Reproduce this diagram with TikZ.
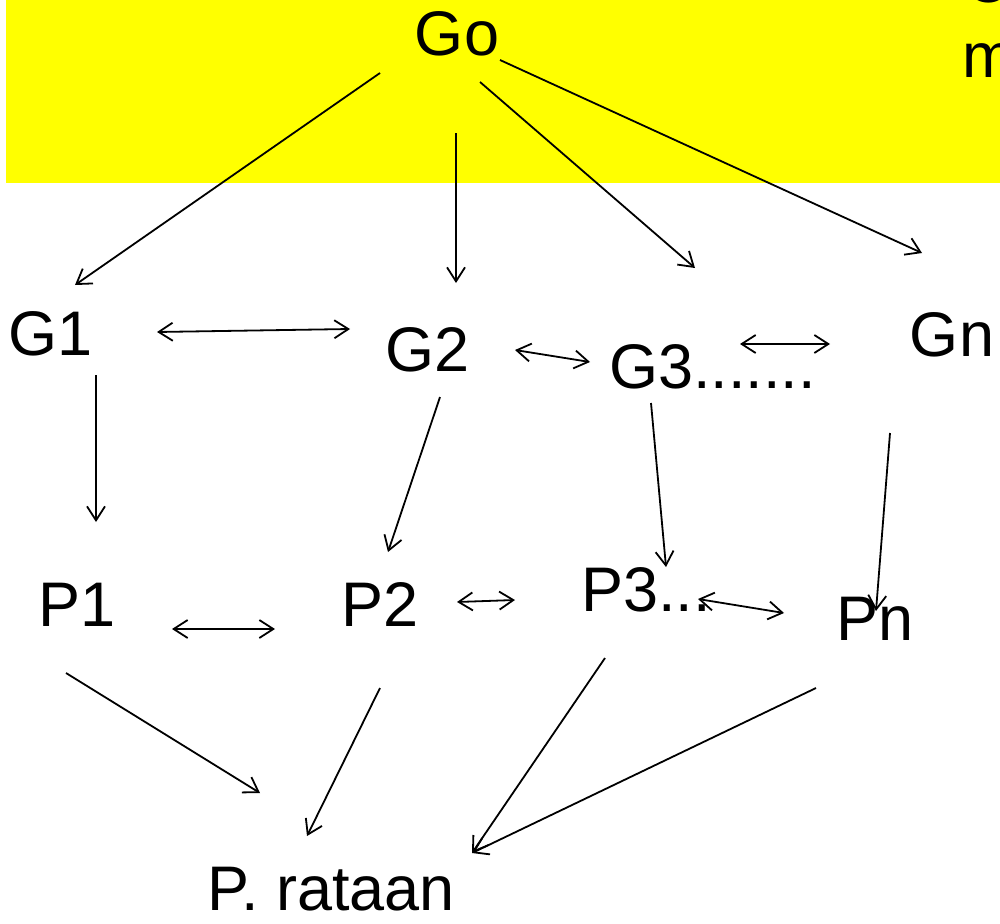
\documentclass[tikz,border=0pt]{standalone}
\usepackage{fontspec}
\setmainfont{Liberation Sans}
\usetikzlibrary{arrows.meta}
\definecolor{hl}{RGB}{255,255,0}
\tikzset{
  lbl/.style={inner sep=0pt, anchor=base, font=\fontsize{63}{75}\selectfont},
  arr/.style={line width=1.8pt, -{Straight Barb[length=14pt,width=18pt,line width=1.8pt]}},
  darr/.style={line width=1.8pt, {Straight Barb[length=14pt,width=18pt,line width=1.8pt]}-{Straight Barb[length=14pt,width=18pt,line width=1.8pt]}}
}
\begin{document}
\begin{tikzpicture}[x=1pt,y=-1pt]
\useasboundingbox (0,0) rectangle (1000,923);
\clip (0,0) rectangle (1000,923);
\fill[hl] (6,0) rectangle (1000,183);
% labels
\node[lbl] (Go) at (457,56) {Go};
\node[lbl, anchor=base west] (Tc) at (964,3) {C};
\node[lbl, anchor=base west] (Tm) at (962,78) {m};
\node[lbl] (G1) at (51,355) {G1};
\node[lbl] (G2) at (428,371) {G2};
\node[lbl, anchor=base west] (G3) at (609,388) {G3.......};
\node[lbl] (Gn) at (952,356) {Gn};
\node[lbl] (P1) at (77,626) {P1};
\node[lbl] (P2) at (380,626) {P2};
\node[lbl, anchor=base west] (P3) at (581,611) {P3...};
\node[lbl] (Pn) at (875,640) {Pn};
\node[lbl] (PR) at (331,910) {P. rataan};
% connector end points
\coordinate (a1) at (380,73);  \coordinate (b1) at (75,285);
\coordinate (a2) at (456,133); \coordinate (b2) at (456,283);
\coordinate (a3) at (480,82);  \coordinate (b3) at (695,268);
\coordinate (a4) at (500,60);  \coordinate (b4) at (922,253);
\coordinate (a5) at (157,332); \coordinate (b5) at (350,329);
\coordinate (a6) at (515,350); \coordinate (b6) at (590,362);
\coordinate (a7) at (740,344); \coordinate (b7) at (830,344);
\coordinate (a8) at (96,375);  \coordinate (b8) at (96,522);
\coordinate (a9) at (440,397); \coordinate (b9) at (388,552);
\coordinate (a10) at (651,403); \coordinate (b10) at (666,567);
\coordinate (a11) at (890,433); \coordinate (b11) at (876,611);
\coordinate (a12) at (172,629); \coordinate (b12) at (275,629);
\coordinate (a13) at (457,602); \coordinate (b13) at (515,600);
\coordinate (a14) at (698,599); \coordinate (b14) at (784,613);
\coordinate (a15) at (66,673);  \coordinate (b15) at (260,793);
\coordinate (a16) at (380,688); \coordinate (b16) at (307,836);
\coordinate (a17) at (605,658); \coordinate (b17) at (472,853);
\coordinate (a18) at (816,688); \coordinate (b18) at (472,853);
% connectors
\draw[arr] (a1) -- (b1);
\draw[arr] (a2) -- (b2);
\draw[arr] (a3) -- (b3);
\draw[arr] (a4) -- (b4);
\draw[darr] (a5) -- (b5);
\draw[darr] (a6) -- (b6);
\draw[darr] (a7) -- (b7);
\draw[arr] (a8) -- (b8);
\draw[arr] (a9) -- (b9);
\draw[arr] (a10) -- (b10);
\draw[arr] (a11) -- (b11);
\draw[darr] (a12) -- (b12);
\draw[darr] (a13) -- (b13);
\draw[darr] (a14) -- (b14);
\draw[arr] (a15) -- (b15);
\draw[arr] (a16) -- (b16);
\draw[arr] (a17) -- (b17);
\draw[arr] (a18) -- (b18);
\end{tikzpicture}
\end{document}
